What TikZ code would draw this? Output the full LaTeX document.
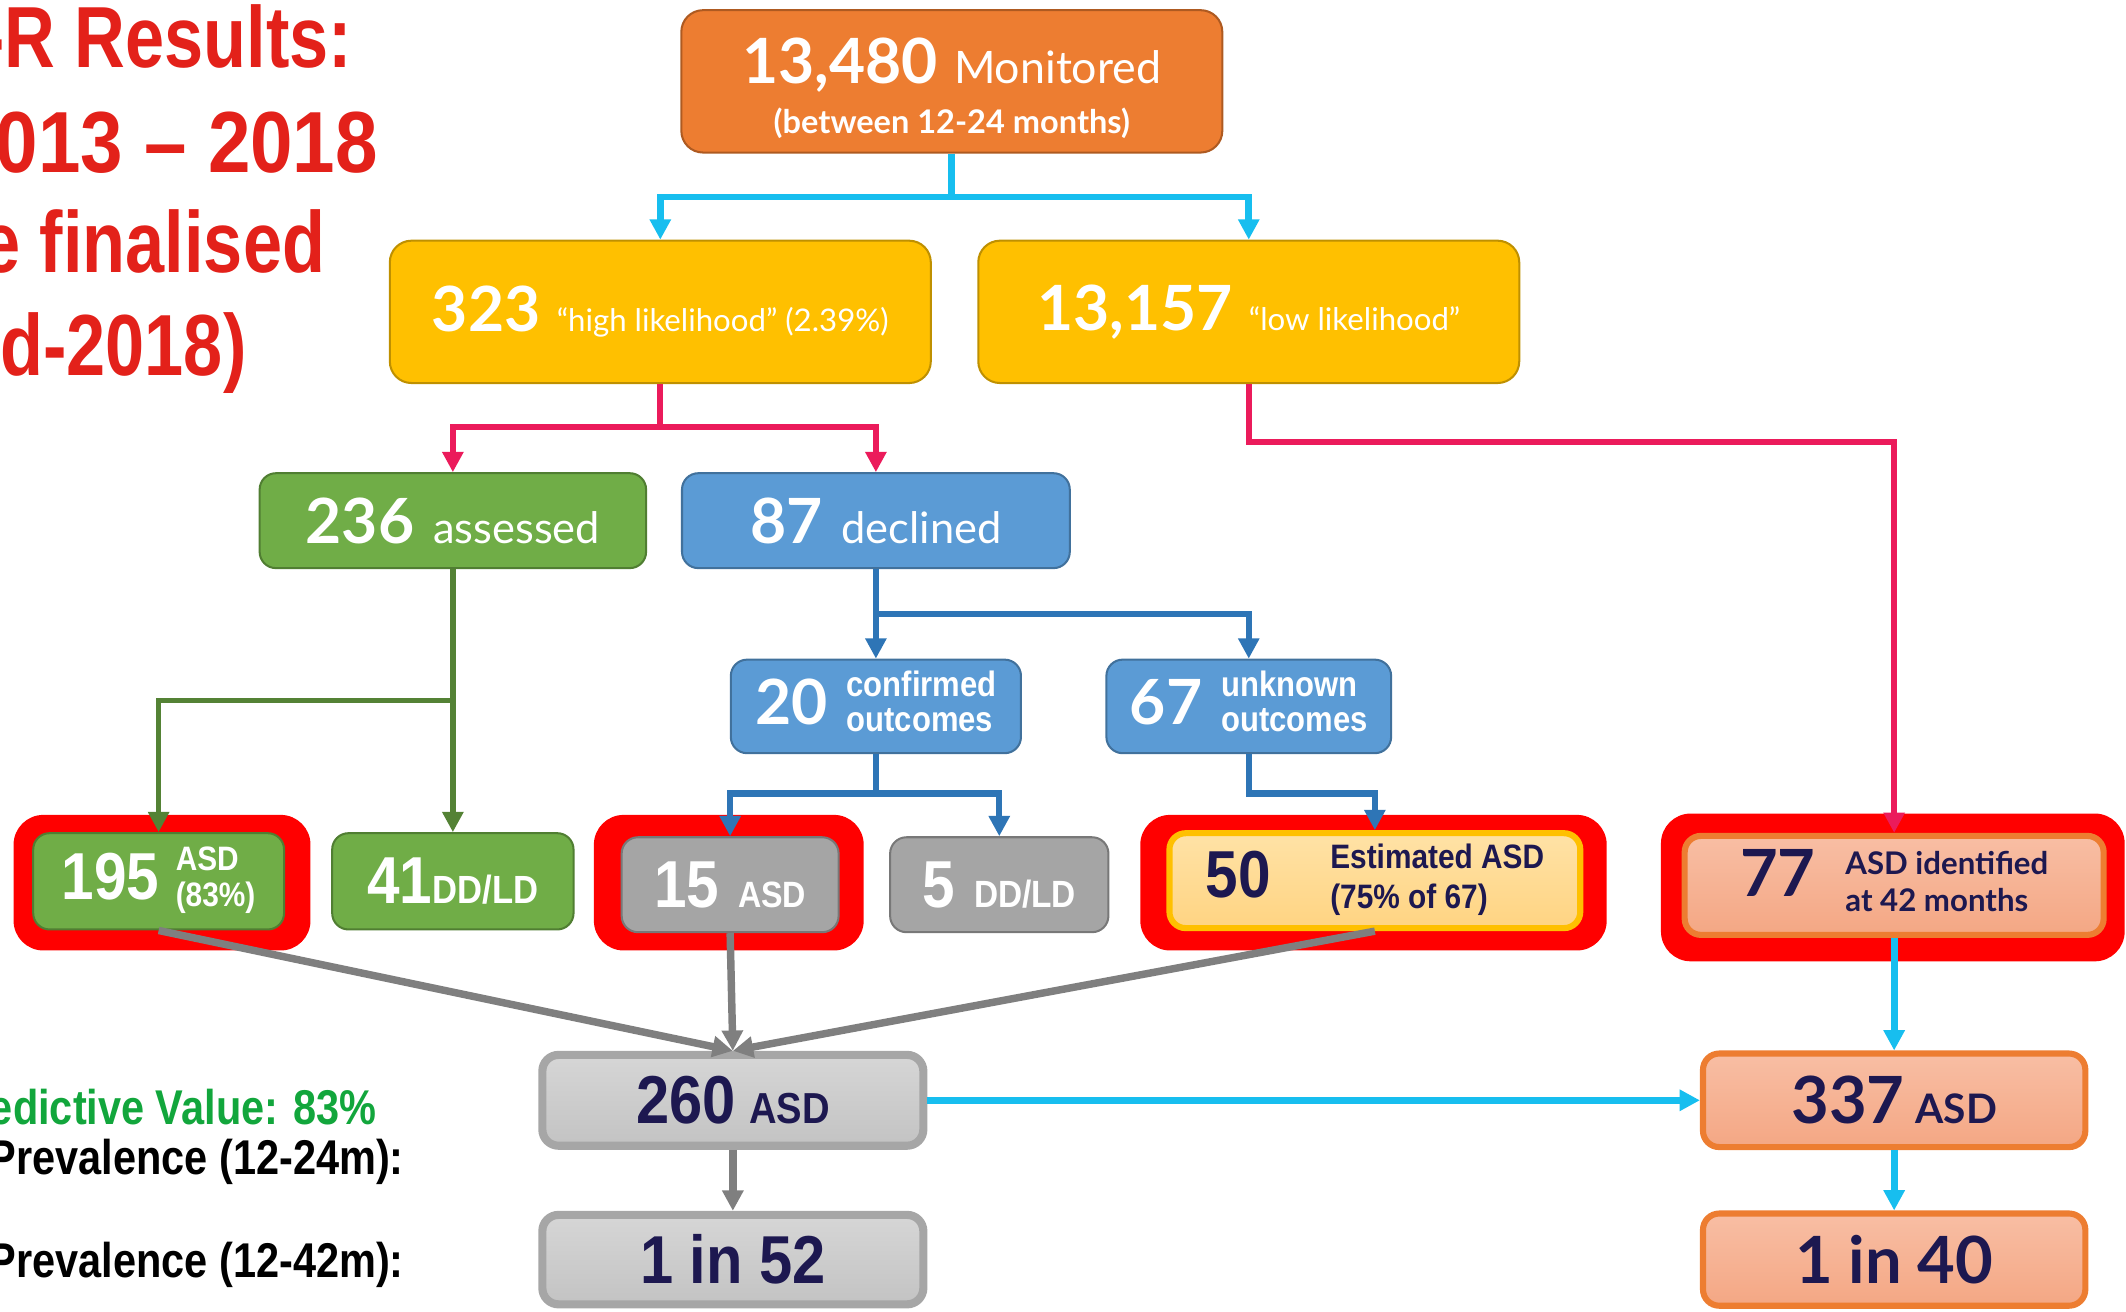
\documentclass[tikz,border=0pt]{standalone}
\usepackage{fontspec}
\setmainfont{Lato}
\newfontfamily\condfont{Liberation Sans}[FakeStretch=0.88]
\newfontfamily\titlefont{Liberation Sans}[FakeStretch=0.81]
\newfontfamily\narrowfont{Liberation Sans}[FakeStretch=0.85]
\usetikzlibrary{arrows.meta}

\definecolor{monfill}{HTML}{ED7D31}
\definecolor{monedge}{HTML}{AE5A21}
\definecolor{amberfill}{HTML}{FFC000}
\definecolor{amberedge}{HTML}{BF9000}
\definecolor{leaffill}{HTML}{70AD47}
\definecolor{leafedge}{HTML}{507E32}
\definecolor{skyfill}{HTML}{5B9BD5}
\definecolor{skyedge}{HTML}{41719C}
\definecolor{ashfill}{HTML}{A5A5A5}
\definecolor{ashedge}{HTML}{787878}
\definecolor{markred}{HTML}{FF0000}
\definecolor{peachtop}{HTML}{F8BEA4}
\definecolor{peachbot}{HTML}{F4A784}
\definecolor{buttertop}{HTML}{FFE2A6}
\definecolor{butterbot}{HTML}{FFD482}
\definecolor{silvertop}{HTML}{D6D6D6}
\definecolor{silverbot}{HTML}{C3C3C3}
\definecolor{silveredge}{HTML}{A6A6A6}
\definecolor{inkblue}{HTML}{1D1850}
\definecolor{feedcyan}{HTML}{17BEEF}
\definecolor{linkpink}{HTML}{EB1B5B}
\definecolor{linkblue}{HTML}{2E75B6}
\definecolor{linkgreen}{HTML}{548235}
\definecolor{linkgrey}{HTML}{7F7F7F}
\definecolor{titlered}{HTML}{E3211A}
\definecolor{ppvgreen}{HTML}{12A63C}

\newcommand\fsz[2]{\fontsize{#1}{#2}\selectfont}
\newcommand\sidepair[3]{\raisebox{#1}{\begin{tabular}{@{}l@{}}#2\\#3\end{tabular}}}

\begin{document}
\begin{tikzpicture}[x=1pt,y=-1pt,>={Triangle[length=15pt,width=15pt]},
  tile/.style={rectangle,rounded corners=12pt,line width=1.5pt,inner sep=0pt,text=white,align=center},
  ambertile/.style={tile,fill=amberfill,draw=amberedge,rounded corners=16pt,minimum width=399pt,minimum height=105pt},
  greentile/.style={tile,fill=leaffill,draw=leafedge},
  bluetile/.style={tile,fill=skyfill,draw=skyedge},
  greytile/.style={tile,fill=ashfill,draw=ashedge},
  redmark/.style={rectangle,rounded corners=22pt,fill=markred,draw=none},
  peachtile/.style={tile,top color=peachtop,bottom color=peachbot,draw=monfill,line width=4.5pt,text=inkblue},
  buttertile/.style={tile,top color=buttertop,bottom color=butterbot,draw=amberfill,line width=4.5pt,text=inkblue},
  silvertile/.style={tile,top color=silvertop,bottom color=silverbot,draw=silveredge,line width=6pt,text=inkblue},
  feed/.style={->,draw=feedcyan,line width=5pt},
  pinklink/.style={->,draw=linkpink,line width=4.5pt},
  bluelink/.style={->,draw=linkblue,line width=4.5pt},
  greenlink/.style={->,draw=linkgreen,line width=4pt},
  greylink/.style={->,draw=linkgrey,line width=5.5pt},
  titletext/.style={anchor=base east,inner sep=0pt,text=titlered,font=\titlefont\bfseries\fsz{64}{64}},
  sidetext/.style={anchor=base east,inner sep=0pt,font=\narrowfont\bfseries\fsz{36}{36}}]
\clip (0,0) rectangle (1568,967);

% heading, cut at the left edge
\node[titletext] (ttl1) at (260,50)  {-R Results:};
\node[titletext,font=\condfont\bfseries\fsz{64}{64}] (ttl2) at (279,127) {013 – 2018};
\node[titletext] (ttl3) at (240,201) {e finalised};
\node[titletext] (ttl4) at (182,277) {d-2018)};

\node[sidetext,text=ppvgreen] (ppv) at (278,829) {edictive Value: 83\%};
\node[sidetext] (prev24) at (298,866) {Prevalence (12-24m):};
\node[sidetext] (prev42) at (298,942) {Prevalence (12-42m):};

% screening levels
\node[tile,fill=monfill,draw=monedge,rounded corners=16pt,minimum width=399pt,minimum height=105pt] (mon) at (702,60)
  {\rule{0pt}{44pt}{\fsz{46}{46}\bfseries 13,480}\hspace{12pt}{\fsz{33}{33}Monitored}\\[10pt]{\fsz{24}{24}\bfseries (between 12-24 months)}};
\node[ambertile] (high) at (487,230) {{\fsz{46}{46}\bfseries 323}\hspace{12pt}{\fsz{23}{23}“high likelihood” (2.39\%)}};
\node[ambertile] (low)  at (921,230) {{\fsz{46}{46}\bfseries 13,157}\hspace{12pt}{\fsz{23}{23}“low likelihood”}};

\node[greentile,minimum width=285pt,minimum height=70pt] (assessed) at (334,384)
  {{\fsz{46}{46}\bfseries 236}\hspace{14pt}{\fsz{32}{32}assessed}};
\node[bluetile,minimum width=286pt,minimum height=70pt]  (declined) at (646,384)
  {{\fsz{46}{46}\bfseries 87}\hspace{14pt}{\fsz{32}{32}declined}};

\node[bluetile,minimum width=214pt,minimum height=69pt] (conf) at (646,521)
  {{\fsz{46}{46}\bfseries 20}\hspace{14pt}{\condfont\bfseries\fsz{26}{26}\sidepair{7pt}{confirmed}{outcomes}}};
\node[bluetile,minimum width=210pt,minimum height=69pt] (unk)  at (921,521)
  {{\fsz{46}{46}\bfseries 67}\hspace{14pt}{\condfont\bfseries\fsz{26}{26}\sidepair{7pt}{unknown}{outcomes}}};

% red highlights
\node[redmark,minimum width=219pt,minimum height=100pt] (mark195) at (119.5,651) {};
\node[redmark,minimum width=199pt,minimum height=100pt] (mark15)  at (537.5,651) {};
\node[redmark,minimum width=344pt,minimum height=100pt] (mark50)  at (1013,651) {};
\node[redmark,minimum width=342pt,minimum height=109pt] (mark77)  at (1396,654.5) {};

% outcomes
\node[greentile,minimum width=185pt,minimum height=71pt] (n195) at (117,650)
  {{\condfont\bfseries\fsz{49}{49}195}\hspace{12pt}{\condfont\bfseries\fsz{25}{27}\sidepair{7pt}{ASD}{(83\%)}}};
\node[greentile,minimum width=178pt,minimum height=71pt] (n41) at (334,650)
  {{\condfont\bfseries\fsz{49}{49}41}{\condfont\bfseries\fsz{29}{29}DD/LD}};
\node[greytile,minimum width=160pt,minimum height=70pt] (n15) at (538.5,652.5)
  {{\condfont\bfseries\fsz{49}{49}15}\hspace{14pt}{\condfont\bfseries\fsz{27}{27}ASD}};
\node[greytile,minimum width=161pt,minimum height=70pt] (n5) at (737,652.5)
  {{\condfont\bfseries\fsz{49}{49}5}\hspace{14pt}{\condfont\bfseries\fsz{28}{28}DD/LD}};
\node[buttertile,minimum width=303pt,minimum height=70pt] (n50) at (1014,649.5)
  {{\condfont\bfseries\fsz{49}{49}50}\hspace{44pt}{\condfont\bfseries\fsz{25}{29}\sidepair{6pt}{Estimated ASD}{(75\% of 67)}}};
\node[peachtile,minimum width=309pt,minimum height=73pt] (n77) at (1397,653)
  {{\fsz{48}{48}\bfseries 77}\hspace{22pt}{\bfseries\fsz{23}{28}\sidepair{2pt}{ASD identified}{at 42 months}}};

% totals
\node[silvertile,minimum width=281pt,minimum height=67pt] (n260) at (540.5,811.5)
  {{\condfont\bfseries\fsz{50}{50}260}\hspace{10pt}{\condfont\bfseries\fsz{32}{32}ASD}};
\node[silvertile,minimum width=281pt,minimum height=66pt] (n52) at (540.5,929)
  {{\condfont\bfseries\fsz{50}{50}1 in 52}};
\node[peachtile,minimum width=282pt,minimum height=69pt] (n337) at (1397,811.5)
  {{\fsz{48}{48}\bfseries 337}\hspace{8pt}{\fsz{30}{30}\bfseries ASD}};
\node[peachtile,minimum width=282pt,minimum height=68pt] (n40) at (1397,929)
  {{\fsz{48}{48}\bfseries 1 in 40}};

% connectors
\draw[feed] (mon.south) -- ++(0,32) -| (high.north);
\draw[feed] (mon.south) -- ++(0,32) -| (low.north);
\draw[pinklink] (high.south) -- ++(0,32) -| (assessed.north);
\draw[pinklink] (high.south) -- ++(0,32) -| (declined.north);
\draw[pinklink] (low.south) -- ++(0,43) -| (n77.north);
\draw[bluelink] (declined.south) -- ++(0,33) -| (conf.north);
\draw[bluelink] (declined.south) -- ++(0,33) -| (unk.north);
\draw[greenlink] (assessed.south) -- (n41.north);
\draw[greenlink] (assessed.south) -- ++(0,97) -| (n195.north);
\draw[bluelink] (conf.south) -- ++(0,29) -| (n15.north);
\draw[bluelink] (conf.south) -- ++(0,29) -| (n5.north);
\draw[bluelink] (unk.south) -- ++(0,29) -| (n50.north);
\draw[greylink] (n195.south) -- (n260.north);
\draw[greylink] (n15.south) -- (n260.north);
\draw[greylink] (n50.south) -- (n260.north);
\draw[greylink] (n260.south) -- (n52.north);
\draw[feed] (n77.south) -- (n337.north);
\draw[feed] (n260.east) -- (n337.west);
\draw[feed] (n337.south) -- (n40.north);
\end{tikzpicture}
\end{document}
